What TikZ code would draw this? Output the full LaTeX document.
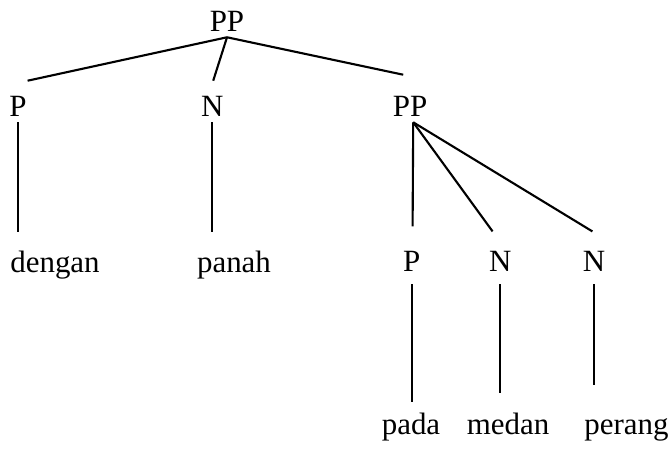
\documentclass[tikz,border=0pt]{standalone}
\usepackage{fontspec}
\setmainfont{Liberation Serif}
\begin{document}
\begin{tikzpicture}[lbl/.style={inner sep=0pt,anchor=base,text height=0.525cm,text depth=0.125cm,font=\fontsize{22}{26}\selectfont},
  branch/.style={line width=1.5pt}]
\useasboundingbox (0,0) rectangle (16.8,11.25);

% labels
\node[lbl] (pp0) at (5.675,10.45) {PP};

\node[lbl] (p1)  at (0.45,8.325)  {P};
\node[lbl] (n1)  at (5.31,8.325)  {N};
\node[lbl] (pp1) at (10.25,8.325) {PP};

\node[lbl] (dengan) at (1.375,4.45) {dengan};
\node[lbl] (panah)  at (5.85,4.45)  {panah};

\node[lbl] (p2) at (10.29,4.4575) {P};
\node[lbl] (n2) at (12.51,4.4575) {N};
\node[lbl] (n3) at (14.85,4.4575) {N};

\node[lbl] (pada)   at (10.275,0.4) {pada};
\node[lbl] (medan)  at (12.7,0.4)   {medan};
\node[lbl] (perang) at (15.66,0.4)  {perang};

% branches
\draw[branch] (pp0.south) -- ([xshift=0.24cm,yshift=0.375cm]p1.north);
\draw[branch] (pp0.south) -- ([xshift=0.02cm,yshift=0.375cm]n1.north);
\draw[branch] (pp0.south) -- ([xshift=-0.17cm,yshift=0.525cm]pp1.north);

\draw[branch,shorten >=0.48cm] (p1.south) -- (p1.south |- dengan.north);
\draw[branch,shorten >=0.48cm] (n1.south) -- (n1.south |- panah.north);

\draw[branch] ([xshift=0.08cm]pp1.south) -- ([xshift=0.025cm,yshift=0.6cm]p2.north);
\draw[branch] ([xshift=0.08cm]pp1.south) -- ([xshift=-0.195cm,yshift=0.475cm]n2.north);
\draw[branch] ([xshift=0.08cm]pp1.south) -- ([xshift=-0.04cm,yshift=0.475cm]n3.north);

\draw[branch,shorten <=0.18cm,shorten >=0.26cm] (p2.south) -- (p2.south |- pada.north);
\draw[branch,shorten <=0.18cm,shorten >=0.49cm] (n2.south) -- (n2.south |- medan.north);
\draw[branch,shorten <=0.18cm,shorten >=0.69cm] (n3.south) -- (n3.south |- perang.north);
\end{tikzpicture}
\end{document}
